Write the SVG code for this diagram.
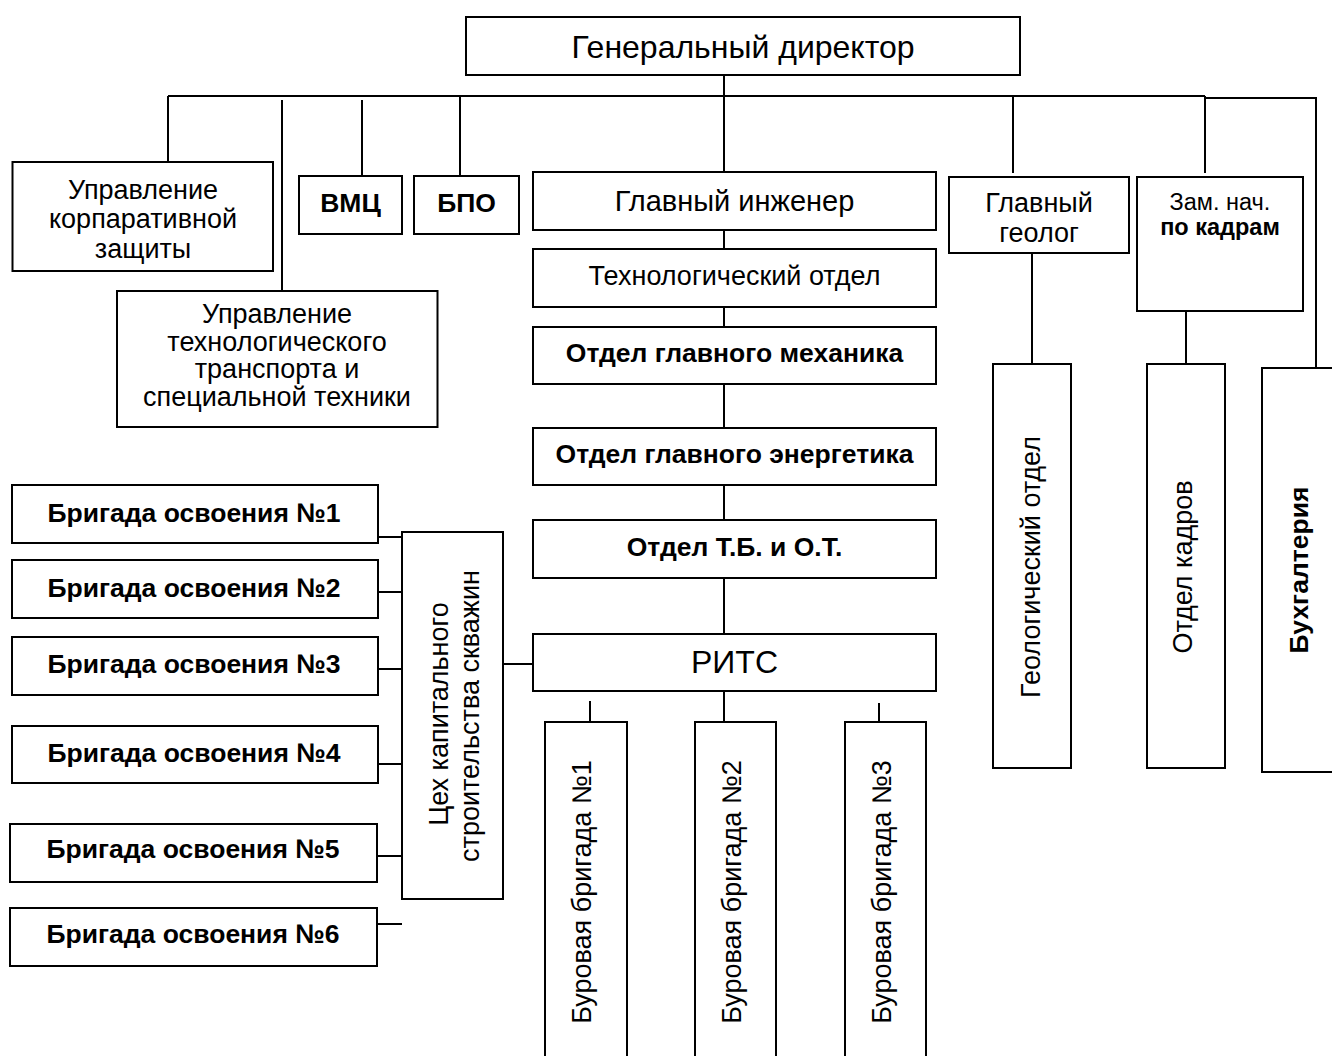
<svg xmlns="http://www.w3.org/2000/svg" width="1332" height="1056" viewBox="0 0 1332 1056">
<style>
rect{fill:#fff;stroke:#000;stroke-width:2}
.c line,.c polyline{stroke:#000;stroke-width:2;fill:none}
text{font-family:"Liberation Sans",Arial,sans-serif;font-size:27px;fill:#000;text-anchor:middle}
.b{font-weight:bold;font-size:26.5px}
.s{font-size:23.5px}
</style>
<rect x="0" y="0" width="1332" height="1056" style="fill:#fff;stroke:none"/>
<g class="c" id="connectors">
<line x1="724" y1="75" x2="724" y2="172"/>
<line x1="168" y1="96" x2="1205" y2="96"/>
<polyline points="1205,98 1316,98 1316,368"/>
<line x1="168" y1="96" x2="168" y2="162"/>
<line x1="282" y1="100" x2="282" y2="291"/>
<line x1="362" y1="100" x2="362" y2="176"/>
<line x1="460" y1="97" x2="460" y2="175"/>
<line x1="1013" y1="96" x2="1013" y2="173"/>
<line x1="1205" y1="96" x2="1205" y2="173"/>
<line x1="724" y1="230" x2="724" y2="249"/>
<line x1="724" y1="307" x2="724" y2="327"/>
<line x1="724" y1="384" x2="724" y2="428"/>
<line x1="724" y1="485" x2="724" y2="520"/>
<line x1="724" y1="578" x2="724" y2="634"/>
<line x1="724" y1="691" x2="724" y2="722"/>
<line x1="590" y1="701" x2="590" y2="722"/>
<line x1="879" y1="703" x2="879" y2="722"/>
<line x1="1032" y1="253" x2="1032" y2="364"/>
<line x1="1186" y1="311" x2="1186" y2="364"/>
<line x1="378" y1="537" x2="402" y2="537"/>
<line x1="378" y1="592" x2="402" y2="592"/>
<line x1="378" y1="669" x2="402" y2="669"/>
<line x1="378" y1="764" x2="402" y2="764"/>
<line x1="377" y1="856" x2="402" y2="856"/>
<line x1="377" y1="924" x2="402" y2="924"/>
<line x1="503" y1="664" x2="533" y2="664"/>
</g>
<g id="director"><rect x="466" y="17" width="554" height="58"/><text x="743" y="58" style="font-size:32px">Генеральный директор</text></g>
<g id="upr_korp"><rect x="12.5" y="162" width="260.5" height="109"/><text x="143" y="199">Управление</text><text x="143" y="228">корпаративной</text><text x="143" y="258">защиты</text></g>
<g id="upr_tech"><rect x="117" y="291" width="320.5" height="136"/><text x="277" y="323">Управление</text><text x="277" y="351">технологического</text><text x="277" y="378">транспорта и</text><text x="277" y="406">специальной техники</text></g>
<g id="vmc"><rect x="299" y="176" width="103" height="58"/><text class="b" x="350.5" y="212">ВМЦ</text></g>
<g id="bpo"><rect x="414" y="176" width="105" height="58"/><text class="b" x="466.5" y="212">БПО</text></g>
<g id="gl_ing"><rect x="533" y="172" width="403" height="58"/><text x="734.5" y="211" style="font-size:29px">Главный инженер</text></g>
<g id="tech"><rect x="533" y="249" width="403" height="58"/><text x="734.5" y="285">Технологический отдел</text></g>
<g id="mech"><rect x="533" y="327" width="403" height="57"/><text class="b" x="734.5" y="362">Отдел главного механика</text></g>
<g id="energ"><rect x="533" y="428" width="403" height="57"/><text class="b" x="734.5" y="463">Отдел главного энергетика</text></g>
<g id="tb"><rect x="533" y="520" width="403" height="58"/><text class="b" x="734.5" y="556">Отдел Т.Б. и О.Т.</text></g>
<g id="rits"><rect x="533" y="634" width="403" height="57"/><text x="734.5" y="673" style="font-size:32px">РИТС</text></g>
<g id="geolog"><rect x="949" y="177" width="180" height="76"/><text x="1039" y="212">Главный</text><text x="1039" y="242">геолог</text></g>
<g id="zam"><rect x="1137" y="177" width="166" height="134"/><text class="s" x="1220" y="210">Зам. нач.</text><text class="b s" x="1220" y="235">по кадрам</text></g>
<g id="geol_otd"><rect x="993" y="364" width="78" height="404"/><text transform="translate(1040,567) rotate(-90)">Геологический отдел</text></g>
<g id="kadr"><rect x="1147" y="364" width="78" height="404"/><text transform="translate(1192,567) rotate(-90)">Отдел кадров</text></g>
<g id="buh"><rect x="1262" y="368" width="100" height="404"/><text class="b" transform="translate(1308,570) rotate(-90)">Бухгалтерия</text></g>
<g id="ceh"><rect x="402" y="532" width="101" height="367"/><text transform="translate(448,714) rotate(-90)">Цех капитального</text><text transform="translate(479,716) rotate(-90)">строительства скважин</text></g>
<g id="brig1"><rect x="12" y="485" width="366" height="58"/><text class="b" x="194" y="522">Бригада освоения №1</text></g>
<g id="brig2"><rect x="12" y="560" width="366" height="58"/><text class="b" x="194" y="597">Бригада освоения №2</text></g>
<g id="brig3"><rect x="12" y="637" width="366" height="58"/><text class="b" x="194" y="673">Бригада освоения №3</text></g>
<g id="brig4"><rect x="12" y="726" width="366" height="57"/><text class="b" x="194" y="762">Бригада освоения №4</text></g>
<g id="brig5"><rect x="10" y="824" width="367" height="58"/><text class="b" x="193" y="858">Бригада освоения №5</text></g>
<g id="brig6"><rect x="10" y="908" width="367" height="58"/><text class="b" x="193" y="943">Бригада освоения №6</text></g>
<g id="bur1"><rect x="545" y="722" width="82" height="350"/><text transform="translate(591,892) rotate(-90)">Буровая бригада №1</text></g>
<g id="bur2"><rect x="695" y="722" width="81" height="350"/><text transform="translate(741,892) rotate(-90)">Буровая бригада №2</text></g>
<g id="bur3"><rect x="845" y="722" width="81" height="350"/><text transform="translate(891,892) rotate(-90)">Буровая бригада №3</text></g>
</svg>
